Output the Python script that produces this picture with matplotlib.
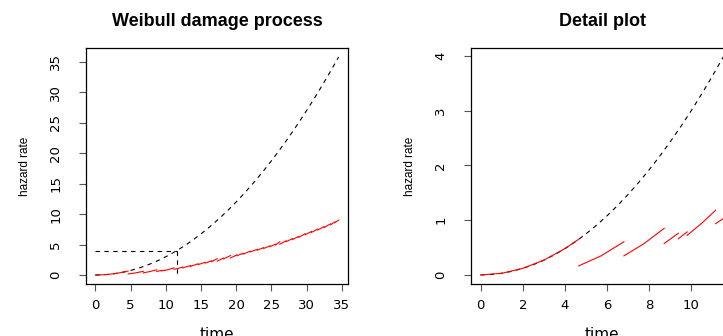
import matplotlib
matplotlib.use("Agg")
import matplotlib.pyplot as plt

# Baseline (no repair) hazard curve
base_t = [0, 0.5, 1, 1.5, 2, 2.5, 3, 3.5, 4, 4.5, 5, 5.5, 6, 6.5, 7, 7.5, 8, 8.5,
          9, 9.5, 10, 10.5, 11, 11.5, 12, 13, 14, 15, 16, 17, 18, 19, 20, 21, 22,
          23, 24, 25, 26, 27, 28, 29, 30, 31, 32, 33, 34, 34.55]
base_h = [0, 0.0075, 0.03, 0.0675, 0.12, 0.1875, 0.27, 0.3675, 0.48, 0.6075, 0.75,
          0.9075, 1.08, 1.2675, 1.47, 1.6875, 1.92, 2.1675, 2.43, 2.7075, 3.0,
          3.3075, 3.63, 3.9675, 4.32, 5.07, 5.88, 6.75, 7.68, 8.67, 9.72, 10.83,
          12.0, 13.23, 14.52, 15.87, 17.28, 18.75, 20.28, 21.87, 23.52, 25.23,
          27.0, 28.83, 30.72, 32.67, 34.68, 35.81]

# Threshold marker (hazard level 4 reached at this time)
thr_t = 11.55
thr_h = 4.0

# Damage process (red), one list per segment between repairs
seg_t = [[0, 1, 2, 3, 4, 4.65], [4.65, 5.7, 6.8], [6.8, 7.75, 8.71], [8.71, 9.38],
         [9.38, 9.8], [9.8, 10.5, 11.15], [11.15, 11.8, 12.4], [12.4, 13.5],
         [13.5, 14.6], [14.6, 15.6], [15.6, 16.5], [16.5, 17.3], [17.3, 18.2],
         [18.2, 19.2], [19.2, 20.1], [20.1, 21.0], [21.0, 22.0], [22.0, 23.0],
         [23.0, 23.9], [23.9, 24.8], [24.8, 25.6], [25.6, 26.2], [26.2, 27.1],
         [27.1, 28.0], [28.0, 28.9], [28.9, 29.8], [29.8, 30.7], [30.7, 31.6],
         [31.6, 32.5], [32.5, 33.4], [33.4, 34.0], [34.0, 34.55]]
seg_h = [[0, 0.03, 0.12, 0.27, 0.48, 0.65], [0.165, 0.345, 0.605], [0.348, 0.57, 0.85],
         [0.573, 0.76], [0.66, 0.785], [0.722, 0.945, 1.18], [0.935, 1.10, 1.30],
         [1.16, 1.55], [1.40, 1.85], [1.70, 2.10], [1.95, 2.33], [2.19, 2.67],
         [2.27, 2.78], [2.64, 3.20], [2.80, 3.30], [3.16, 3.57], [3.43, 3.92],
         [3.78, 4.22], [4.08, 4.50], [4.35, 4.79], [4.64, 5.07], [4.93, 5.45],
         [5.05, 5.62], [5.47, 5.98], [5.83, 6.34], [6.19, 6.78], [6.62, 7.16],
         [7.00, 7.55], [7.39, 7.96], [7.80, 8.40], [8.24, 8.72], [8.58, 9.02]]

left_xticks = [0, 5, 10, 15, 20, 25, 30, 35]
left_yticks = [0, 5, 10, 15, 20, 25, 30, 35]
right_xticks = [0, 2, 4, 6, 8, 10]
right_yticks = [0, 1, 2, 3, 4]

W, H = 723, 336
fig = plt.figure(figsize=(W / 100, H / 100), dpi=100)

def pos(x0, x1, ytop, ybot):
    return [x0 / W, 1 - ybot / H, (x1 - x0) / W, (ybot - ytop) / H]

ax1 = fig.add_axes(pos(85.7, 348.3, 48.3, 283.7))
ax2 = fig.add_axes(pos(471.0, 733.7, 48.3, 283.7))

dash = (0, (4, 4))
tickfont = dict(family="DejaVu Sans", size=9.5)

def style(ax, title, xticks, yticks):
    ax.set_title(title, fontsize=13, fontweight="bold", family="Liberation Sans",
                 pad=16)
    ax.set_xlabel("time", fontsize=11, family="DejaVu Sans", labelpad=11)
    ax.set_ylabel("hazard rate", fontsize=8.5, family="Liberation Sans", labelpad=13)
    ax.set_xticks(xticks)
    ax.set_yticks(yticks)
    ax.set_xticklabels([str(v) for v in xticks], **tickfont)
    ax.set_yticklabels([str(v) for v in yticks], rotation=90, va="center", **tickfont)
    ax.tick_params(axis="both", direction="out", length=5, width=0.8, color="#555555")
    ax.tick_params(axis="x", pad=6)
    ax.tick_params(axis="y", pad=12)
    for s in ax.spines.values():
        s.set_linewidth(0.9)
        s.set_color("black")

# Left: full process
ax1.plot(base_t, base_h, color="black", lw=0.8, linestyle=dash)
ax1.plot([0, thr_t], [thr_h, thr_h], color="black", lw=0.8, linestyle=dash)
ax1.plot([thr_t, thr_t], [thr_h, 0], color="black", lw=0.8, linestyle=dash)
for t, h in zip(seg_t, seg_h):
    ax1.plot(t, h, color="#FF0000", lw=0.8)
ax1.set_xlim(-1.38, 35.93)
ax1.set_ylim(-1.43, 37.24)
style(ax1, "Weibull damage process", left_xticks, left_yticks)

# Right: detail up to the threshold
ax2.plot(base_t, base_h, color="black", lw=0.8, linestyle=dash)
for t, h in zip(seg_t, seg_h):
    ax2.plot(t, h, color="#FF0000", lw=0.8)
ax2.set_xlim(-0.46, 12.01)
ax2.set_ylim(-0.16, 4.135)
style(ax2, "Detail plot", right_xticks, right_yticks)

fig.savefig("out.png", dpi=100)
